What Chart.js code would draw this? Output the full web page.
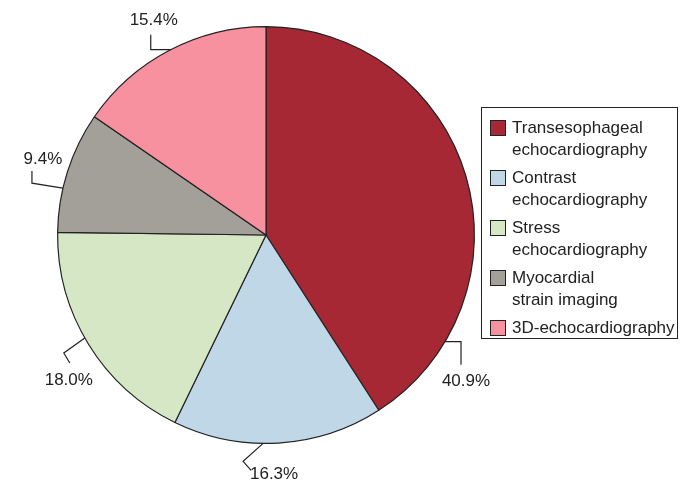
<!DOCTYPE html>
<html>
<head>
<meta charset="utf-8">
<script src="https://cdn.jsdelivr.net/npm/chart.js@4"></script>
<style>
  body { margin: 0; background: #fff; }
  #wrap { position: relative; width: 680px; height: 481px; }
  #legend {
    position: absolute; left: 481px; top: 107px; width: 197px; height: 232px;
    border: 1px solid #222; background: #fff;
    font-family: "Liberation Sans", Arial, sans-serif; font-size: 17px; color: #222;
    box-sizing: border-box; padding: 9px 0 0 8px;
  }
  .item { position: relative; padding-left: 22px; line-height: 22px; height: 50px; }
  .item:last-child { height: 26px; }
  .sw { position: absolute; left: 0; top: 3px; width: 14px; height: 14px; border: 1px solid #222; }
</style>
</head>
<body>
<div id="wrap">
  <canvas id="myChart" width="680" height="481"></canvas>
  <div id="legend"></div>
</div>
<script>
const categories = [
  ['Transesophageal', 'echocardiography'],
  ['Contrast', 'echocardiography'],
  ['Stress', 'echocardiography'],
  ['Myocardial', 'strain imaging'],
  ['3D-echocardiography']
];
const values = [40.9, 16.3, 18.0, 9.4, 15.4];
const valueLabels = ['40.9%', '16.3%', '18.0%', '9.4%', '15.4%'];
const colors = ['#a52834', '#bfd7e7', '#d5e7c4', '#a39f99', '#f8919f'];

// leader lines: angle on the rim (deg, clockwise from top), elbow, end and text offsets from rim point
const leaders = [
  { ang: 120.8, elbow: [16, 0], end: [16, 23], text: [21, 40] },
  { ang: 180.8, elbow: [-20, 18], end: [-12, 27], text: [11, 31] },
  { ang: 240.4, elbow: [-21, 15], end: [-15, 25], text: [-16, 42] },
  { ang: 283.0, elbow: [-31, -5], end: [-31, -17], text: [-20, -29] },
  { ang: 332.8, elbow: [-20, 0], end: [-20, -15], text: [-17, -29] }
];

const leaderPlugin = {
  id: 'leaders',
  afterDatasetsDraw(chart) {
    const c = chart.ctx;
    const meta = chart.getDatasetMeta(0);
    c.save();
    c.strokeStyle = '#222';
    c.lineWidth = 1.2;
    c.fillStyle = '#222';
    c.font = '17px "Liberation Sans", Arial, sans-serif';
    c.textAlign = 'center';
    c.textBaseline = 'middle';
    meta.data.forEach((arc, i) => {
      const L = leaders[i];
      const a = L.ang * Math.PI / 180;
      const x0 = arc.x + arc.outerRadius * Math.sin(a);
      const y0 = arc.y - arc.outerRadius * Math.cos(a);
      c.beginPath();
      c.moveTo(x0, y0);
      c.lineTo(x0 + L.elbow[0], y0 + L.elbow[1]);
      c.lineTo(x0 + L.end[0], y0 + L.end[1]);
      c.stroke();
      c.fillText(valueLabels[i], x0 + L.text[0], y0 + L.text[1]);
    });
    c.restore();
  }
};

const ctx = document.getElementById('myChart').getContext('2d');
let myChart = new Chart(ctx, {
  type: 'pie',
  data: {
    labels: categories.map(c => c.join(' ')),
    datasets: [{
      data: values,
      backgroundColor: colors,
      borderColor: '#222',
      borderWidth: 1.2
    }]
  },
  options: {
    responsive: false,
    animation: false,
    layout: { padding: { left: 57, right: 205, top: 26, bottom: 37 } },
    plugins: { legend: { display: false }, tooltip: { enabled: false } }
  },
  plugins: [leaderPlugin]
});

let legend = document.getElementById('legend');
categories.forEach((lines, i) => {
  let item = document.createElement('div');
  item.className = 'item';
  item.innerHTML = '<span class="sw" style="background:' + colors[i] + '"></span>' + lines.join('<br>');
  legend.appendChild(item);
});
</script>
</body>
</html>
